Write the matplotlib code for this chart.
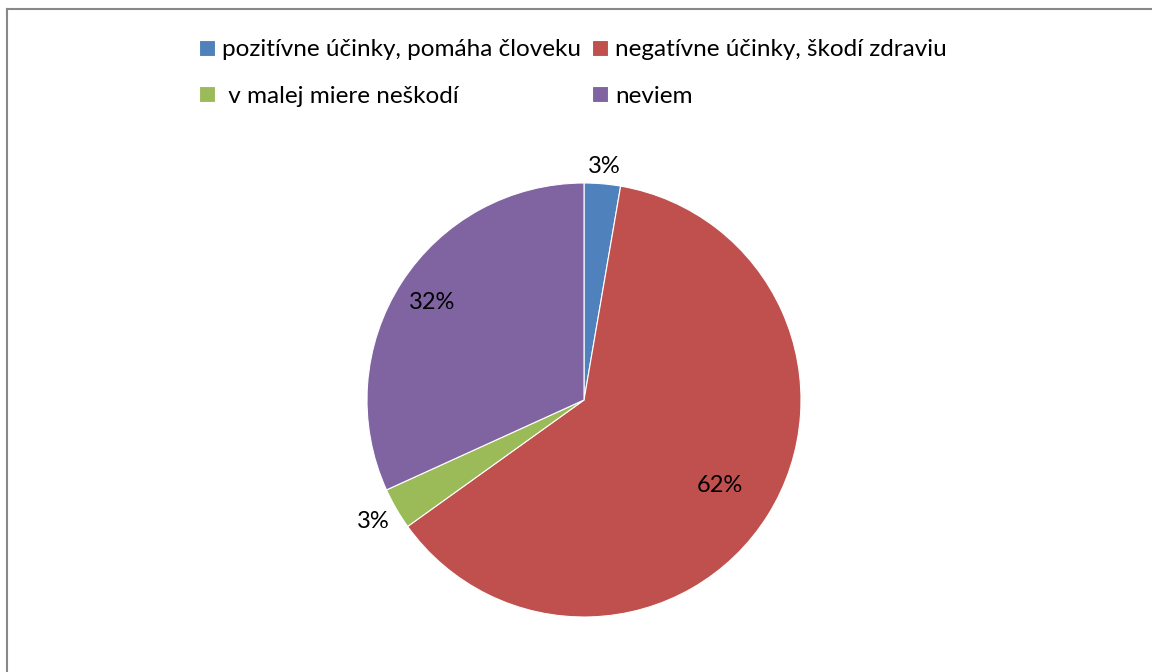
import numpy as np
import matplotlib.pyplot as plt
from matplotlib.lines import Line2D

plt.rcParams['font.family'] = ['Lato', 'DejaVu Sans']

labels = ['pozitívne účinky, pomáha človeku', 'negatívne účinky, škodí zdraviu',
          ' v malej miere neškodí', 'neviem']
values = [2.7, 62.4, 3.1, 31.8]
colors = ['#4F81BD', '#C0504D', '#9BBB59', '#8064A2']
label_r = [1.08, 0.74, 1.12, 0.83]

W, H = 1152, 672
fig = plt.figure(figsize=(W / 100, H / 100), dpi=100)

# frame (only left and top edges visible)
fig.add_artist(Line2D([7 / W, 7 / W], [0, 1 - 9 / H], color='#888888', lw=1.5))
fig.add_artist(Line2D([7 / W, 1], [1 - 9 / H, 1 - 9 / H], color='#888888', lw=1.5))

cx, cy, r = 584, 400, 217
ax = fig.add_axes([(cx - r) / W, (H - cy - r) / H, 2 * r / W, 2 * r / H])
wedges, _ = ax.pie(values, colors=colors, startangle=90, counterclock=False,
                   radius=1, wedgeprops=dict(edgecolor='white', linewidth=0.8))
ax.set_xlim(-1, 1)
ax.set_ylim(-1, 1)

cum = np.cumsum([0] + values)
for i, v in enumerate(values):
    mid = 90 - (cum[i] + v / 2) * 3.6
    a = np.deg2rad(mid)
    ax.text(label_r[i] * np.cos(a), label_r[i] * np.sin(a), '%.0f%%' % v,
            ha='center', va='center', fontsize=17, color='black', clip_on=False)

order = [0, 2, 1, 3]
leg = fig.legend([wedges[i] for i in order], [labels[i] for i in order],
                 ncol=2, loc='center', bbox_to_anchor=(573 / W, 1 - 73 / H),
                 frameon=False, fontsize=17.5, handlelength=0.65, handleheight=0.65,
                 handletextpad=0.3, columnspacing=0.45, labelspacing=1.05)

fig.savefig('out.png', dpi=100)
